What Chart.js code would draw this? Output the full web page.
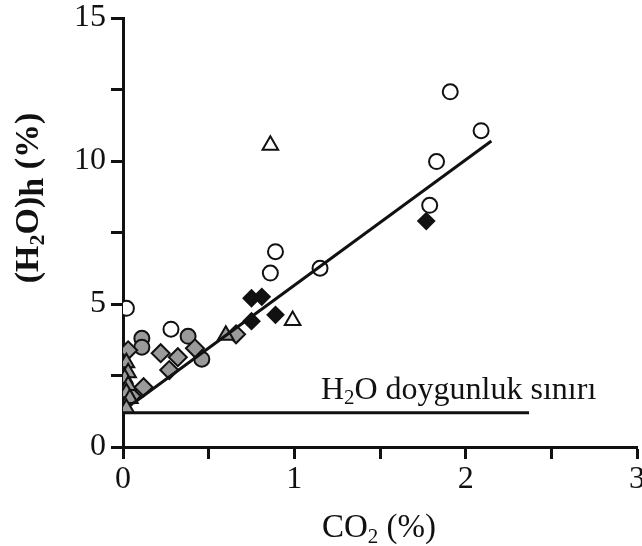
<!DOCTYPE html>
<html>
<head>
<meta charset="utf-8">
<script src="https://cdn.jsdelivr.net/npm/chart.js@4.4.1/dist/chart.umd.min.js"></script>
<style>
html,body{margin:0;padding:0;background:#fff;overflow:hidden;}
</style>
</head>
<body>
<canvas id="c" width="648" height="546"></canvas>
<script>
/* ── DATA ── */
const openCircles   = [[0.02,4.85],[0.28,4.12],[0.86,6.08],[0.89,6.83],[1.15,6.25],[1.79,8.45],[1.83,9.98],[1.91,12.42],[2.09,11.06]];
const openTriangles = [[0.86,10.55],[0.99,4.42]];
const blackDiamonds = [[0.75,5.2],[0.81,5.25],[0.75,4.4],[0.89,4.62],[1.77,7.9]];
const grayDiamonds  = [[0.03,3.38],[0.22,3.28],[0.32,3.14],[0.27,2.69],[0.42,3.45],[0.12,2.09],[0.05,1.78],[0.66,3.94]];
const grayCircles   = [[0.11,3.8],[0.11,3.49],[0.38,3.87],[0.46,3.07]];
const grayTriangles = [[0.6,3.91],[0.02,2.95],[0.03,2.6],[0.01,2.4],[0.03,2.15],[0.02,1.9],[0.04,1.7],[0.02,1.35]];
const fitLine       = [[0.06,1.53],[2.15,10.7]];
const saturation    = [[0,1.2],[2.37,1.2]];
const xTicks = [0,1,2,3];
const yTicks = [0,5,10,15];

const FONT = '"Liberation Serif", "Times New Roman", serif';
const INK = '#111';
const GRAY = '#9a9a9a';
const pts = a => a.map(([x,y]) => ({x,y}));

function marks(data, style, fill, r){
  return { data:pts(data), pointStyle:style, pointRadius:r, pointHoverRadius:r,
           backgroundColor:fill, borderColor:INK, borderWidth:2, order:1 };
}
function seg(data){
  return { data:pts(data), showLine:true, borderColor:INK, borderWidth:3, pointRadius:0, order:0 };
}

/* ── RICH TEXT (sub-scripts) ── */
function drawRich(ctx, parts, x, y, size, bold, align){
  const f = s => (bold?'bold ':'') + Math.round(s) + 'px ' + FONT;
  let w = 0;
  parts.forEach(p => { ctx.font = f(size*(p.k||1)); w += ctx.measureText(p.t).width; });
  let cx = align === 'center' ? x - w/2 : x;
  parts.forEach(p => {
    ctx.font = f(size*(p.k||1));
    ctx.fillText(p.t, cx, y + (p.dy||0));
    cx += ctx.measureText(p.t).width;
  });
}

const labels = {
  id:'labels',
  afterDraw(chart){
    const {ctx, scales:{x,y}} = chart;
    ctx.save();
    ctx.fillStyle = INK;
    ctx.textBaseline = 'alphabetic';
    // annotation
    drawRich(ctx, [{t:'H'},{t:'2',k:0.65,dy:5},{t:'O doygunluk sınırı'}],
      x.getPixelForValue(1.155), y.getPixelForValue(1.68), 32, false, 'left');
    // x title
    drawRich(ctx, [{t:'CO'},{t:'2',k:0.65,dy:6},{t:' (%)'}], 379, 537, 33, false, 'center');
    // y title
    ctx.translate(38, 198);
    ctx.rotate(-Math.PI/2);
    drawRich(ctx, [{t:'(H'},{t:'2',k:0.65,dy:6},{t:'O)'},{t:'h',dy:5},{t:' (%)'}], 0, 0, 34, true, 'center');
    ctx.restore();
  }
};

/* ── CHART ── */
const axisGrid = { display:true, drawOnChartArea:false, drawTicks:true, tickLength:12, tickWidth:3, tickColor:INK, color:INK };
const axisBorder = { display:true, color:INK, width:3 };

new Chart(document.getElementById('c'), {
  type:'scatter',
  data:{ datasets:[
    marks(grayTriangles,'triangle',GRAY,9),
    marks(grayDiamonds,'rectRot',GRAY,9),
    marks(grayCircles,'circle',GRAY,7.5),
    marks(blackDiamonds,'rectRot',INK,8),
    marks(openTriangles,'triangle','#fff',9),
    marks(openCircles,'circle','#fff',7.5),
    seg(fitLine),
    seg(saturation)
  ]},
  plugins:[labels],
  options:{
    responsive:false, devicePixelRatio:1, animation:false,
    layout:{ padding:{ left:0, right:6, top:18, bottom:0 } },
    plugins:{ legend:{display:false}, tooltip:{enabled:false} },
    scales:{
      x:{ type:'linear', min:0, max:3,
          afterBuildTicks: s => { s.ticks = [0,0.5,1,1.5,2,2.5,3].map(v => ({value:v})); },
          ticks:{ font:{family:FONT,size:32}, color:INK, padding:1, maxRotation:0,
                  callback: v => xTicks.includes(v) ? String(v) : '' },
          grid:axisGrid, border:axisBorder,
          afterFit: s => { s.height = 99; } },
      y:{ type:'linear', min:0, max:15,
          afterBuildTicks: s => { s.ticks = [0,2.5,5,7.5,10,12.5,15].map(v => ({value:v})); },
          ticks:{ font:{family:FONT,size:32}, color:INK, padding:5,
                  callback: v => yTicks.includes(v) ? String(v) : '' },
          grid:axisGrid, border:axisBorder,
          afterFit: s => { s.width = 123; s.paddingTop = 0; s.paddingBottom = 0; } }
    }
  }
});
</script>
</body>
</html>
